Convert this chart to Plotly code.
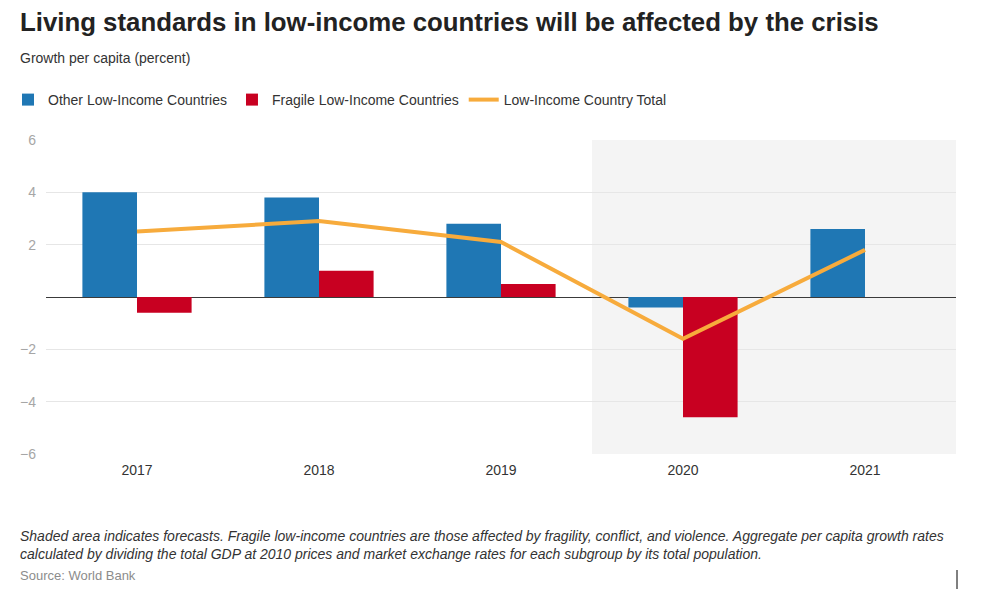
import plotly.graph_objects as go

years = ["2017", "2018", "2019", "2020", "2021"]
other_lic = [4.0, 3.8, 2.8, -0.4, 2.6]
fragile_lic = [-0.6, 1.0, 0.5, -4.6, None]
lic_total = [2.5, 2.9, 2.1, -1.6, 1.8]
y_ticks = [-6, -4, -2, 2, 4, 6]
y_labels = ["\u22126", "\u22124", "\u22122", "2", "4", "6"]

font = "Liberation Sans, Arial, sans-serif"
note_x = -0.0308

fig = go.Figure()
fig.add_trace(go.Bar(x=years, y=other_lic, name="Other Low-Income Countries",
                     marker=dict(color="#1f77b4", line=dict(width=0))))
fig.add_trace(go.Bar(x=years, y=fragile_lic, name="Fragile Low-Income Countries",
                     marker=dict(color="#c80021", line=dict(width=0))))
fig.add_trace(go.Scatter(x=years, y=lic_total, name="Low-Income Country Total", mode="lines",
                         line=dict(color="#f7ab3c", width=4)))

# forecast shading 2020-2021
fig.add_shape(type="rect", xref="x", yref="y", x0=2.5, x1=4.5, y0=-6, y1=6,
              fillcolor="#f4f4f4", line=dict(width=0), layer="below")

fig.update_layout(
    width=975, height=587,
    margin=dict(l=38, r=27, t=132, b=141),
    paper_bgcolor="white", plot_bgcolor="white",
    font=dict(family=font, color="#333333", size=13),
    barmode="group", bargap=0.4, bargroupgap=0,
    showlegend=True,
    legend=dict(orientation="h", xref="container", yref="container",
                x=-0.006, xanchor="left", y=1 - 92 / 587, yanchor="middle",
                font=dict(size=14, color="#333333"), traceorder="normal"),
    xaxis=dict(range=[-0.5, 4.5], showgrid=False, showline=False, ticks="", automargin=False,
               ticklabelstandoff=6, tickfont=dict(size=14, color="#333333")),
    yaxis=dict(range=[-6, 6], tickvals=y_ticks, ticktext=y_labels, automargin=False,
               gridcolor="#e6e6e6", gridwidth=1, zeroline=True, zerolinecolor="#3a3a3a",
               zerolinewidth=1, showline=False, ticks="", ticklabelstandoff=9,
               tickfont=dict(size=14, color="#a6a6a6")),
    annotations=[
        dict(text="<b>Living standards in low-income countries will be affected by the crisis</b>",
             xref="paper", yref="paper", x=note_x, y=(454 - 22) / 314, xanchor="left", yanchor="middle",
             showarrow=False, font=dict(size=25.8, color="#222222")),
        dict(text="Growth per capita (percent)",
             xref="paper", yref="paper", x=note_x, y=(454 - 58) / 314, xanchor="left", yanchor="middle",
             showarrow=False, font=dict(size=14, color="#333333")),
        dict(text="<i>Shaded area indicates forecasts. Fragile low-income countries are those affected by fragility, conflict, and violence. Aggregate per capita growth rates<br>calculated by dividing the total GDP at 2010 prices and market exchange rates for each subgroup by its total population.</i>",
             xref="paper", yref="paper", x=note_x, y=(454 - 545) / 314, xanchor="left", yanchor="middle",
             align="left", showarrow=False, font=dict(size=14, color="#333333")),
        dict(text="Source: World Bank",
             xref="paper", yref="paper", x=note_x, y=(454 - 575) / 314, xanchor="left", yanchor="middle",
             showarrow=False, font=dict(size=13, color="#8c8c8c")),
    ],
)

# small cursor mark at the bottom right of the original
fig.add_shape(type="line", xref="paper", yref="paper",
              x0=(957 - 46) / 910, x1=(957 - 46) / 910,
              y0=(454 - 570) / 314, y1=(454 - 589) / 314,
              line=dict(color="#000000", width=1))

fig.write_html("out.html")
